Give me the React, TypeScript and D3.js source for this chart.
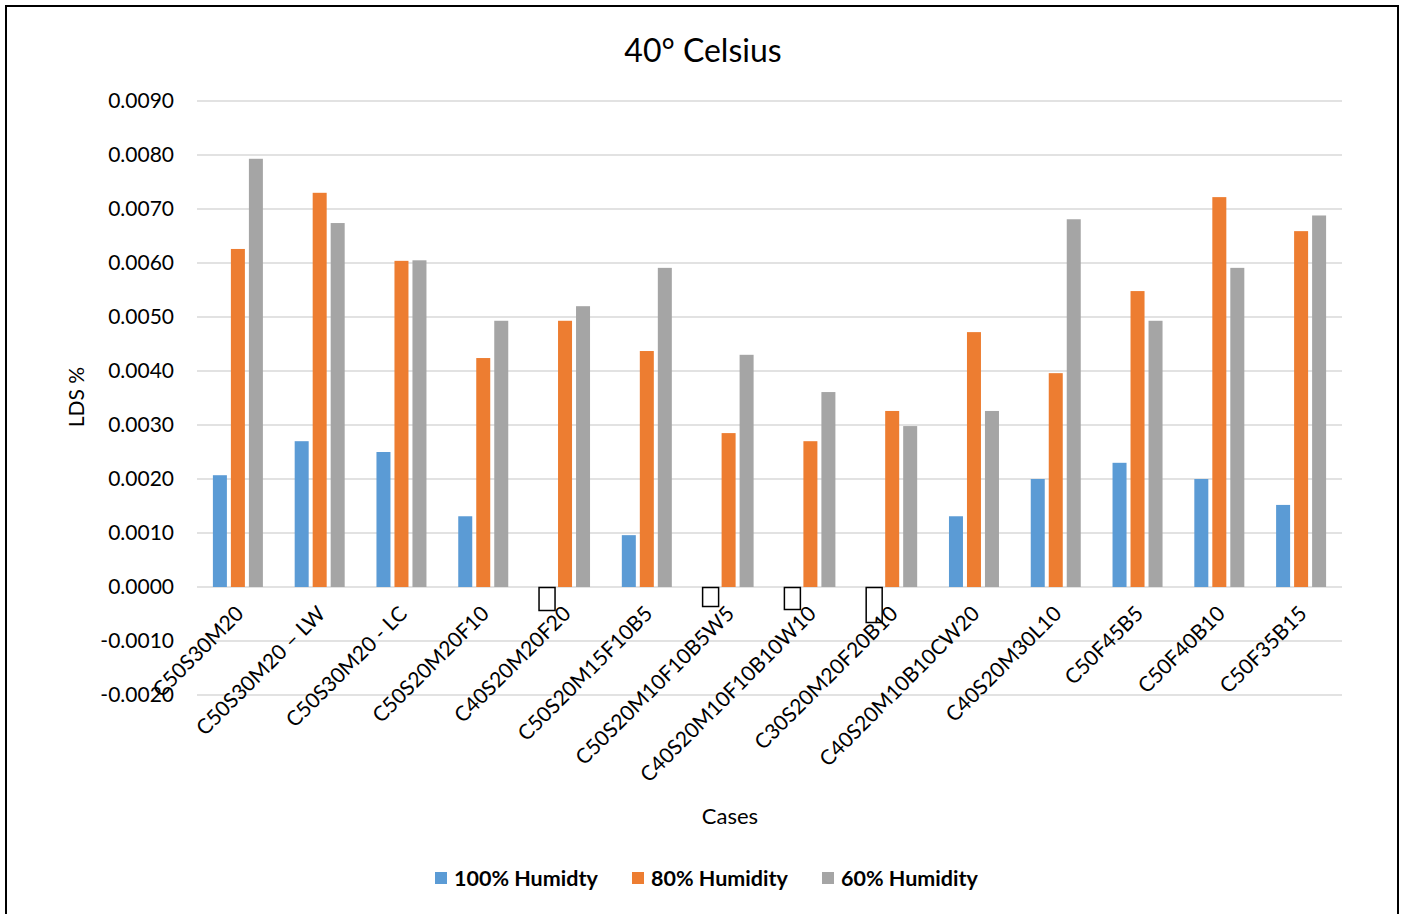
import React from "react";
import * as d3 from "d3";

const categories = [
  "C50S30M20",
  "C50S30M20 – LW",
  "C50S30M20 - LC",
  "C50S20M20F10",
  "C40S20M20F20",
  "C50S20M15F10B5",
  "C50S20M10F10B5W5",
  "C40S20M10F10B10W10",
  "C30S20M20F20B10",
  "C40S20M10B10CW20",
  "C40S20M30L10",
  "C50F45B5",
  "C50F40B10",
  "C50F35B15",
];
const humidity100 = [0.00207, 0.0027, 0.0025, 0.00131, 0, 0.00096, 0, 0, 0, 0.00131, 0.002, 0.0023, 0.002, 0.00152];
const humidity80 = [0.00626, 0.0073, 0.00604, 0.00424, 0.00493, 0.00437, 0.00285, 0.0027, 0.00326, 0.00472, 0.00396, 0.00548, 0.00722, 0.00659];
const humidity60 = [0.00793, 0.00674, 0.00605, 0.00493, 0.0052, 0.00591, 0.0043, 0.00361, 0.00298, 0.00326, 0.00681, 0.00493, 0.00591, 0.00688];
const yTicks = [-0.002, -0.001, 0, 0.001, 0.002, 0.003, 0.004, 0.005, 0.006, 0.007, 0.008, 0.009];
const seriesNames = ["100% Humidty", "80% Humidity", "60% Humidity"];
const colors = ["#5B9BD5", "#ED7D31", "#A5A5A5"];
// empty (unrenderable) data labels shown under zero-value bars
const missingLabelHeights = [0, 0, 0, 0, 23, 0, 19, 22, 35, 0, 0, 0, 0, 0];

const FONT = "Lato, 'Open Sans', sans-serif";

export default function App() {
  const left = 197, right = 1342;
  const x = d3.scaleBand<string>().domain(categories).range([left, right]).padding(0);
  const y = d3.scaleLinear().domain([-0.002, 0.009]).range([695, 101]);
  const series = [humidity100, humidity80, humidity60];
  const barW = 14;
  const step = 18;

  const legendX = [435, 632, 822];

  return (
    <svg width={1405} height={914} style={{ position: "absolute", left: 0, top: 0, background: "#fff" }}>
      <rect x={0} y={0} width={1405} height={914} fill="#fff" />
      <rect x={6} y={6} width={1392} height={920} fill="none" stroke="#000" strokeWidth={2} />
      <text x={703} y={62} textAnchor="middle" fontFamily={FONT} fontSize={32} fill="#000">40° Celsius</text>
      {yTicks.map((t) => (
        <g key={t}>
          <line x1={left} x2={right} y1={y(t)} y2={y(t)} stroke="#D9D9D9" strokeWidth={1.5} />
          <text x={174} y={y(t)} dy="0.35em" textAnchor="end" fontFamily={FONT} fontSize={21} fill="#000">
            {t.toFixed(4)}
          </text>
        </g>
      ))}
      {categories.map((c, i) => {
        const cx = (x(c) as number) + x.bandwidth() / 2;
        return (
          <g key={c}>
            {series.map((s, k) =>
              s[i] !== 0 ? (
                <rect
                  key={k}
                  x={cx + (k - 1) * step - barW / 2}
                  y={y(Math.max(0, s[i]))}
                  width={barW}
                  height={Math.abs(y(s[i]) - y(0))}
                  fill={colors[k]}
                />
              ) : null
            )}
            {missingLabelHeights[i] > 0 && (
              <rect
                x={cx - step - 8}
                y={y(0) + 0.5}
                width={16}
                height={missingLabelHeights[i]}
                fill="#fff"
                stroke="#000"
                strokeWidth={1.5}
              />
            )}
            <text
              transform={`translate(${cx + 7},${615}) rotate(-45)`}
              textAnchor="end"
              fontFamily={FONT}
              fontSize={21}
              fill="#000"
            >
              {c}
            </text>
          </g>
        );
      })}
      <text transform="translate(84,397) rotate(-90)" textAnchor="middle" fontFamily={FONT} fontSize={21} fill="#000">LDS %</text>
      <text x={730} y={824} textAnchor="middle" fontFamily={FONT} fontSize={22} fill="#000">Cases</text>
      {seriesNames.map((n, k) => (
        <g key={n}>
          <rect x={legendX[k]} y={872} width={12} height={12} fill={colors[k]} />
          <text x={legendX[k] + 19} y={886} fontFamily={FONT} fontWeight="bold" fontSize={21.5} fill="#000">{n}</text>
        </g>
      ))}
    </svg>
  );
}
